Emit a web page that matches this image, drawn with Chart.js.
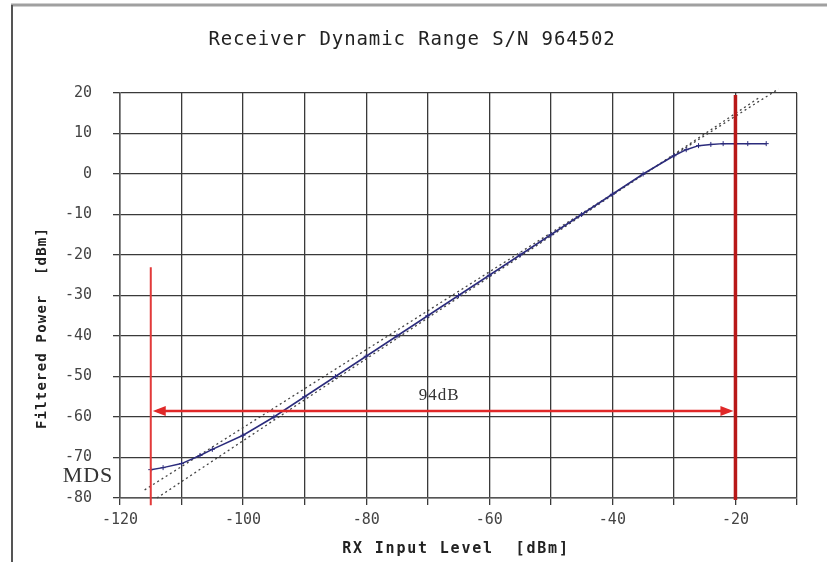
<!DOCTYPE html>
<html>
<head>
<meta charset="utf-8">
<script src="https://cdn.jsdelivr.net/npm/chart.js@4"></script>
<style>
  html, body { margin: 0; padding: 0; background: #fff; }
  #wrap { width: 827px; height: 562px; }
</style>
</head>
<body>
<div id="wrap"><canvas id="range-chart" width="827" height="562"></canvas></div>
<script>
// measured receiver response
const inputLevel = [-115, -113, -110, -107, -105, -100, -95, -90, -85, -80, -75, -70, -65, -60, -55, -50, -45, -40, -35, -30, -28, -26, -24, -22, -20, -18, -15];
const filteredPower = [-73, -72.5, -71.5, -69.5, -68, -64.5, -60, -55, -50, -45, -40, -35, -30, -25, -20, -15, -10, -5, 0, 4.5, 6, 7, 7.3, 7.5, 7.5, 7.5, 7.5];

// dotted reference lines
const idealAX = [-116, -13];
const idealAY = [-78, 21];
const idealBX = [-114, -16];
const idealBY = [-80, 19];

// markers
const mdsLevel = -115;
const limitLevel = -20;
const mdsLineY = [-23, -81.8];
const limitLineY = [19.5, -80.5];
const spanY = -58.5;
const spanLabel = '94dB';

const xTicks = [-120, -100, -80, -60, -40, -20];
const yMin = -80, yMax = 20, xMin = -120, xMax = -10;

const pts = (xs, ys) => xs.map((x, i) => ({x: x, y: ys[i]}));

const monoFont = '"DejaVu Sans Mono", "Liberation Mono", monospace';

const extras = {
    id: 'extras',
    beforeDraw(chart) {
        const c = chart.ctx;
        c.save();
        c.fillStyle = '#fff';
        c.fillRect(0, 0, chart.width, chart.height);
        // outer frame
        c.strokeStyle = '#a0a0a0';
        c.lineWidth = 3;
        c.beginPath(); c.moveTo(11, 5); c.lineTo(827, 5); c.stroke();
        c.strokeStyle = '#555';
        c.lineWidth = 2;
        c.beginPath(); c.moveTo(12, 5); c.lineTo(12, 562); c.stroke();
        c.restore();
    },
    afterDraw(chart) {
        const c = chart.ctx;
        const xs = chart.scales.x, ys = chart.scales.y;
        c.save();
        c.fillStyle = '#222';
        c.textAlign = 'center';
        c.textBaseline = 'middle';
        // title
        c.font = '19px ' + monoFont;
        c.letterSpacing = '0.9px';
        c.fillText('Receiver Dynamic Range S/N 964502', 412, 40);
        // axis titles
        c.font = 'bold 15px ' + monoFont;
        c.letterSpacing = '1.8px';
        c.fillText('RX Input Level  [dBm]', 456, 549);
        c.save();
        c.translate(42, 328);
        c.rotate(-Math.PI / 2);
        c.font = 'bold 14px ' + monoFont;
        c.letterSpacing = '1.2px';
        c.fillText('Filtered Power  [dBm]', 0, 0);
        c.restore();
        // MDS + span label
        c.letterSpacing = '1px';
        c.font = '22px "Liberation Serif", serif';
        c.fillStyle = '#333';
        c.fillText('MDS', 88, 476);
        c.font = '17px "Liberation Serif", serif';
        const mid = (xs.getPixelForValue(mdsLevel) + xs.getPixelForValue(limitLevel)) / 2;
        c.fillText(spanLabel, mid - 4, ys.getPixelForValue(spanY) - 15);
        // arrow heads
        const ay = ys.getPixelForValue(spanY);
        const l = xs.getPixelForValue(mdsLevel) + 2, r = xs.getPixelForValue(limitLevel) - 2;
        c.fillStyle = '#e02828';
        c.beginPath(); c.moveTo(l, ay); c.lineTo(l + 13, ay - 5); c.lineTo(l + 13, ay + 5); c.closePath(); c.fill();
        c.beginPath(); c.moveTo(r, ay); c.lineTo(r - 13, ay - 5); c.lineTo(r - 13, ay + 5); c.closePath(); c.fill();
        c.restore();
    }
};

new Chart(document.getElementById('range-chart'), {
    type: 'line',
    data: {
        datasets: [
            {
                data: pts(inputLevel, filteredPower),
                borderColor: '#2b2b7c',
                backgroundColor: '#2b2b7c',
                borderWidth: 1.5,
                pointStyle: 'cross',
                pointRadius: 2.5,
                pointBorderWidth: 1,
                order: 2
            },
            {
                data: pts(idealAX, idealAY),
                borderColor: '#444',
                borderWidth: 1.3,
                borderDash: [2, 3],
                pointRadius: 0,
                clip: false,
                order: 3
            },
            {
                data: pts(idealBX, idealBY),
                borderColor: '#444',
                borderWidth: 1.3,
                borderDash: [2, 3],
                pointRadius: 0,
                clip: false,
                order: 3
            },
            {
                data: pts([mdsLevel, mdsLevel], mdsLineY),
                borderColor: '#e23a3a',
                borderWidth: 2,
                pointRadius: 0,
                clip: false,
                order: 1
            },
            {
                data: pts([limitLevel, limitLevel], limitLineY),
                borderColor: '#b81818',
                borderWidth: 3.5,
                pointRadius: 0,
                clip: false,
                order: 1
            },
            {
                data: pts([mdsLevel + 1, limitLevel - 1], [spanY, spanY]),
                borderColor: '#e02828',
                borderWidth: 2.5,
                pointRadius: 0,
                clip: false,
                order: 1
            }
        ]
    },
    options: {
        responsive: false,
        animation: false,
        layout: { padding: { left: 10, top: 93, right: 30, bottom: 0 } },
        plugins: {
            legend: { display: false },
            tooltip: { enabled: false }
        },
        scales: {
            x: {
                type: 'linear',
                min: xMin,
                max: xMax,
                afterFit: s => { s.height = 64; },
                border: { color: '#555', width: 1.5 },
                grid: { color: '#3a3a3a', lineWidth: 1.3, tickLength: 7 },
                ticks: {
                    stepSize: 10,
                    padding: 6,
                    maxRotation: 0,
                    autoSkip: false,
                    color: '#444',
                    font: { family: monoFont, size: 15 },
                    callback: v => xTicks.includes(v) ? String(v) : ''
                }
            },
            y: {
                min: yMin,
                max: yMax,
                afterFit: s => { s.width = 110; },
                border: { color: '#555', width: 1.5 },
                grid: { color: '#3a3a3a', lineWidth: 1.3, tickLength: 7 },
                ticks: {
                    stepSize: 10,
                    padding: 21,
                    color: '#444',
                    font: { family: monoFont, size: 15 }
                }
            }
        }
    },
    plugins: [extras]
});
</script>
</body>
</html>
